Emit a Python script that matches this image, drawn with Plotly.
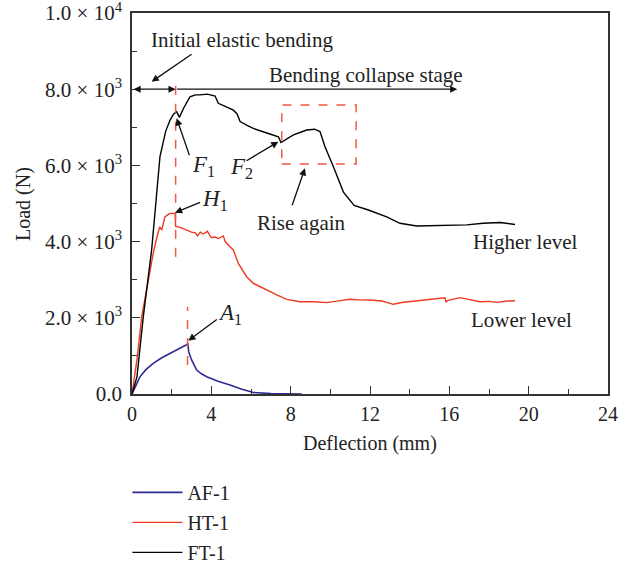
import plotly.graph_objects as go

# ---------------- data ----------------
af_x = [0, 0.2, 0.4, 0.7, 1.07, 1.5, 1.92, 2.3, 2.6, 2.78, 2.82, 2.86, 3.0, 3.26, 3.5, 3.77, 4.3, 4.94, 5.5, 6.12, 7.0, 7.8, 8.56]
af_y = [0, 250, 450, 640, 805, 950, 1070, 1180, 1260, 1300, 1310, 1100, 900, 630, 530, 454, 340, 236, 130, 40, 10, 3, 0]

ht_x = [0, 0.25, 0.49, 0.82, 1.07, 1.25, 1.4, 1.5, 1.66, 1.8, 1.92, 2.17, 2.2, 2.4, 2.6, 2.8, 3.0, 3.2, 3.3, 3.45, 3.6, 3.8, 4.0, 4.2, 4.35, 4.6, 4.7,
        4.94, 5.11, 5.36, 5.78, 6.12, 6.5, 6.79, 7.3, 7.8, 8.47, 9.2, 9.82, 10.5, 10.99, 11.5, 12.0, 12.6, 13.18, 13.6, 14.02, 14.8, 15.78, 15.84, 15.9, 16.54, 17.0, 17.55, 18.0, 18.39, 18.9, 19.31]
ht_y = [0, 900, 2030, 2990, 3690, 4100, 4390, 4300, 4650, 4700, 4740, 4740, 4400, 4380, 4330, 4280, 4250, 4230, 4150, 4250, 4200, 4270, 4100, 4120, 4080, 4150, 4000,
        3866, 3780, 3430, 3079, 2905, 2800, 2730, 2600, 2485, 2423, 2420, 2397, 2450, 2485, 2470, 2467, 2440, 2354, 2400, 2423, 2470, 2528, 2406, 2450, 2528, 2480, 2423, 2430, 2406, 2440, 2449]

ft_x = [0, 0.25, 0.57, 0.99, 1.2, 1.41, 1.7, 1.92, 2.1, 2.25, 2.39, 2.6, 2.92, 3.2, 3.43, 3.8, 4.19, 4.35, 4.7, 5.11, 5.3, 5.45, 5.8, 6.12, 6.8, 7.38, 7.51,
        8.14, 8.81, 9.2, 9.48, 9.73, 10.15, 10.66, 11.2, 11.92, 12.84, 13.51, 14.36, 15.2, 15.87, 16.88, 17.7, 18.56, 19.31]
ft_y = [0, 450, 2030, 3780, 5000, 6230, 6900, 7190, 7350, 7410, 7260, 7500, 7800, 7850, 7850, 7870, 7820, 7630, 7550, 7450, 7350, 7150, 7050, 6970, 6850, 6750, 6600,
        6800, 6930, 6950, 6890, 6490, 5970, 5300, 4950, 4830, 4650, 4480, 4410, 4420, 4410, 4440, 4480, 4500, 4450]

y_ticks = [0, 2000, 4000, 6000, 8000, 10000]
y_tick_text = ["0.0", "2.0 × 10<sup>3</sup>", "4.0 × 10<sup>3</sup>", "6.0 × 10<sup>3</sup>",
               "8.0 × 10<sup>3</sup>", "1.0 × 10<sup>4</sup>"]
x_ticks = [0, 4, 8, 12, 16, 20, 24]

FONT = "Liberation Serif"
BLUE = "#2e2a93"
RED = "#ee3a22"
DASH_RED = "#f05a40"

fig = go.Figure()
fig.add_trace(go.Scatter(x=af_x, y=af_y, mode="lines", name="AF-1", legendgroup="a",
                         line=dict(color=BLUE, width=1.6)))
fig.add_trace(go.Scatter(x=ht_x, y=ht_y, mode="lines", name="HT-1", legendgroup="b",
                         line=dict(color=RED, width=1.4)))
fig.add_trace(go.Scatter(x=ft_x, y=ft_y, mode="lines", name="FT-1", legendgroup="c",
                         line=dict(color="black", width=1.4)))

shapes = [
    dict(type="line", xref="x", yref="y", x0=2.2, x1=2.2, y0=3600, y1=8250,
         line=dict(color=DASH_RED, width=1.5, dash="dash")),
    dict(type="line", xref="x", yref="y", x0=2.8, x1=2.8, y0=760, y1=2290,
         line=dict(color=DASH_RED, width=1.5, dash="dash")),
    dict(type="rect", xref="x", yref="y", x0=7.55, x1=11.3, y0=6037, y1=7585,
         line=dict(color=DASH_RED, width=1.5, dash="dash")),
]

ann = []


def arrow(tx, ty, fx, fy, side="end"):
    ann.append(dict(x=tx, y=ty, ax=fx, ay=fy, xref="x", yref="y", axref="x", ayref="y",
                    text="", showarrow=True, arrowhead=2, arrowsize=1.1, arrowwidth=1.3,
                    arrowcolor="#111", arrowside=side, startarrowhead=2, startarrowsize=1.1))


def label(x, y, t, size=21):
    ann.append(dict(x=x, y=y, xref="x", yref="y", text=t, showarrow=False,
                    xanchor="center", yanchor="middle",
                    font=dict(family=FONT, size=size, color="#222")))


arrow(0.99, 8197, 3.08, 8942)
arrow(2.2, 8000, 0.0, 8000, side="end+start")
arrow(16.4, 8000, 2.2, 8000)
arrow(2.25, 7236, 2.92, 6228)
arrow(7.38, 6622, 5.70, 6097)
arrow(2.17, 4759, 3.51, 5047)
arrow(2.84, 1399, 4.35, 1987)
arrow(8.72, 5924, 8.05, 4916)

label(5.55, 9291, "Initial elastic bending")
label(11.8, 8373, "Bending collapse stage")
label(3.6, 5990, "<i>F</i><sub>1</sub>", 23)
label(5.5, 5920, "<i>F</i><sub>2</sub>", 23)
label(4.2, 5080, "<i>H</i><sub>1</sub>", 23)
label(4.95, 2110, "<i>A</i><sub>1</sub>", 23)
label(8.56, 4480, "Rise again")
label(19.82, 3997, "Higher level")
label(19.65, 1942, "Lower level")

# axis titles (page px: y-title centre ~ (24, 204), x-title centre ~ (370, 443))
ann.append(dict(x=(24 - 132) / 476, y=(394 - 204) / 381, xref="paper", yref="paper",
                text="Load (N)", textangle=-90, xanchor="center", yanchor="middle",
                showarrow=False, font=dict(family=FONT, size=20, color="#222")))
ann.append(dict(x=(370 - 132) / 476, y=(394 - 443) / 381, xref="paper", yref="paper",
                text="Deflection (mm)", xanchor="center", yanchor="middle",
                showarrow=False, font=dict(family=FONT, size=20, color="#222")))

fig.update_layout(
    width=632, height=564,
    margin=dict(l=132, r=24, t=13, b=170, autoexpand=False),
    paper_bgcolor="white", plot_bgcolor="white",
    font=dict(family=FONT, size=20, color="#222"),
    showlegend=True,
    legend=dict(xref="container", yref="container", x=0.2016, y=0.1615, xanchor="left", yanchor="top",
                traceorder="grouped", tracegroupgap=1,
                font=dict(family=FONT, size=20, color="#222"),
                itemwidth=50, bgcolor="rgba(0,0,0,0)"),
    shapes=shapes, annotations=ann,
)
fig.update_xaxes(range=[0, 24], tickvals=x_ticks, ticks="inside", ticklen=8,
                 showline=True, linecolor="#333", linewidth=1.5, mirror=True,
                 showgrid=False, zeroline=False, automargin=False, ticklabeloverflow="allow",
                 ticklabelstandoff=1, tickfont=dict(family=FONT, size=20),
                 minor=dict(dtick=2, ticks="inside", ticklen=5, tickcolor="#333"),
                 tickcolor="#333")
fig.update_yaxes(range=[0, 10000], tickvals=y_ticks, ticktext=y_tick_text, ticks="inside", ticklen=8,
                 showline=True, linecolor="#333", linewidth=1.5, mirror=True,
                 showgrid=False, zeroline=False, automargin=False, ticklabeloverflow="allow",
                 ticklabelstandoff=4, tickfont=dict(family=FONT, size=21),
                 minor=dict(dtick=1000, ticks="inside", ticklen=5, tickcolor="#333"),
                 tickcolor="#333")

fig.write_html("out.html", config={"displayModeBar": False},
               post_script="document.body.style.margin='0';")
